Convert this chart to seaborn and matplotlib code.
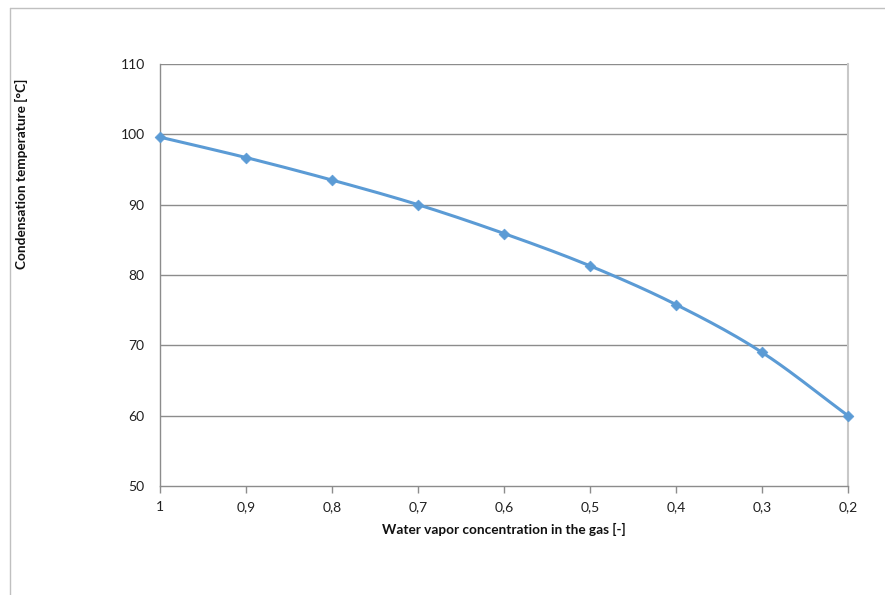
import numpy as np
import pandas as pd
import matplotlib
matplotlib.use("Agg")
import matplotlib.pyplot as plt
import seaborn as sns

concentration_labels = ["1", "0,9", "0,8", "0,7", "0,6", "0,5", "0,4", "0,3", "0,2"]
condensation_temp = [99.6, 96.7, 93.5, 90.0, 85.9, 81.3, 75.8, 69.0, 60.0]
y_ticks = [50, 60, 70, 80, 90, 100, 110]

sns.set_theme(style="white")
plt.rcParams["font.family"] = ["Lato", "DejaVu Sans"]

line_color = "#5B9BD5"
grid_color = "#8C8C8C"

fig = plt.figure(figsize=(8.85, 5.95), dpi=100)
ax = fig.add_axes([160 / 885, (595 - 486) / 595, (848 - 160) / 885, (486 - 64) / 595])

df = pd.DataFrame({"pos": np.arange(len(condensation_temp)), "temp": condensation_temp})

# Smoothed line (Catmull-Rom through the data points, like Excel's smoothed line)
pts = np.column_stack([df["pos"].values, df["temp"].values]).astype(float)
ext = np.vstack([2 * pts[0] - pts[1], pts, 2 * pts[-1] - pts[-2]])
sx, sy = [], []
for i in range(1, len(ext) - 2):
    p0, p1, p2, p3 = ext[i - 1], ext[i], ext[i + 1], ext[i + 2]
    for t in np.linspace(0, 1, 20, endpoint=(i == len(ext) - 3)):
        c = 0.5 * ((2 * p1) + (-p0 + p2) * t + (2 * p0 - 5 * p1 + 4 * p2 - p3) * t ** 2
                   + (-p0 + 3 * p1 - 3 * p2 + p3) * t ** 3)
        sx.append(c[0]); sy.append(c[1])
smooth = pd.DataFrame({"pos": sx, "temp": sy})

sns.lineplot(data=smooth, x="pos", y="temp", ax=ax, color=line_color, linewidth=2.2,
             sort=False, estimator=None)
sns.scatterplot(data=df, x="pos", y="temp", ax=ax, color=line_color, marker="D",
                s=30, edgecolor=line_color, linewidth=0.5, zorder=5, clip_on=False)

ax.set_xlim(0, len(condensation_temp) - 1)
ax.set_ylim(50, 110)
ax.set_yticks(y_ticks)
ax.set_yticklabels([str(v) for v in y_ticks])
ax.set_xticks(np.arange(len(concentration_labels)))
ax.set_xticklabels(concentration_labels)

for v in y_ticks[1:]:
    ax.axhline(v, color=grid_color, linewidth=1.0, zorder=0)

for side in ["left", "bottom"]:
    ax.spines[side].set_color(grid_color)
    ax.spines[side].set_linewidth(1.0)
ax.spines["top"].set_visible(False)
ax.spines["right"].set_color("#C8C8C8")
ax.spines["right"].set_linewidth(1.5)

ax.tick_params(axis="x", which="both", bottom=True, length=5, width=1.0, color=grid_color,
               direction="out", labelsize=10, pad=6, labelcolor="#202020")
ax.tick_params(axis="y", which="both", left=False, labelsize=10, pad=5, labelcolor="#202020")

ax.set_xlabel("Water vapor concentration in the gas [-]", fontsize=9.8, fontweight="bold",
              labelpad=7, color="#101010")
ax.set_ylabel("")
fig.text(21 / 885, 1 - 174 / 595, "Condensation temperature [°C]", rotation=90,
         ha="center", va="center", fontsize=9.8, fontweight="bold", color="#101010")

# Partial chart-area border (top and left)
fig.add_artist(plt.Line2D([10 / 885, 1.0], [1 - 7.5 / 595, 1 - 7.5 / 595],
                          transform=fig.transFigure, color="#C0C0C0", linewidth=1.0))
fig.add_artist(plt.Line2D([10 / 885, 10 / 885], [0.0, 1 - 7.5 / 595],
                          transform=fig.transFigure, color="#C0C0C0", linewidth=1.0))

fig.savefig("out.png", dpi=100, facecolor="white")
